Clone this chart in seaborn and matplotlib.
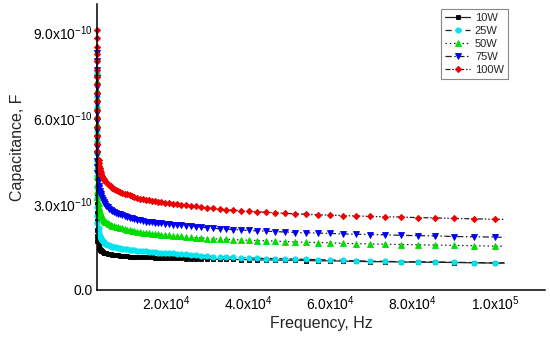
import matplotlib
matplotlib.use("Agg")
import matplotlib.pyplot as plt
import seaborn as sns
import pandas as pd

# Frequency (Hz)
freq = [3225, 3231, 3237, 3243, 3249, 3255, 3261, 3267, 3273, 3279, 3285, 3291, 3297, 3303, 3309, 3315,
        3620, 3720, 3820, 3915, 4015, 4115,
        4210, 4410, 4610, 4805, 5005, 5200, 5500, 5800, 6190, 6590,
        6985, 7380, 7875, 8370, 8870, 9360, 9960, 10550, 11145, 11740,
        12330, 13030, 13720, 14410, 15110, 15800, 16590, 17290, 18080, 18870,
        19760, 20650, 21640, 22630, 23720, 24810, 26000, 27290, 28580, 29960,
        31450, 33030, 34620, 36400, 38180, 40070, 42140, 44220, 46500, 48880,
        51450, 54030, 56900, 59770, 62940, 66210, 69680, 73340, 77200, 81270,
        85520, 90080, 94830, 99890, 102260]

# Capacitance in units of 1e-10 F
cap_10w = [6.0, 5.7, 5.4, 5.1, 4.8, 4.5, 4.2, 3.9, 3.6, 3.3, 3.0, 2.7, 2.4, 2.1, 1.9, 1.7,
           1.56, 1.50, 1.46, 1.43, 1.41, 1.39,
           1.37, 1.35, 1.33, 1.31, 1.30, 1.29, 1.28, 1.27, 1.26, 1.25,
           1.24, 1.23, 1.22, 1.21, 1.20, 1.19, 1.18, 1.18, 1.17, 1.17,
           1.16, 1.16, 1.15, 1.15, 1.14, 1.14, 1.14, 1.13, 1.13, 1.13,
           1.12, 1.12, 1.12, 1.11, 1.11, 1.10, 1.10, 1.09, 1.09, 1.08,
           1.08, 1.07, 1.07, 1.07, 1.06, 1.06, 1.05, 1.05, 1.05, 1.04,
           1.04, 1.03, 1.02, 1.02, 1.01, 1.00, 0.99, 0.99, 0.98, 0.97,
           0.97, 0.96, 0.95, 0.94, 0.94]
cap_25w = [8.0, 7.6, 7.2, 6.8, 6.4, 6.0, 5.6, 5.2, 4.8, 4.4, 4.0, 3.6, 3.2, 2.9, 2.6, 2.35,
           2.15, 2.02, 1.94, 1.89, 1.85, 1.81,
           1.78, 1.74, 1.70, 1.67, 1.64, 1.62, 1.60, 1.58, 1.56, 1.54,
           1.52, 1.51, 1.49, 1.48, 1.46, 1.45, 1.43, 1.42, 1.41, 1.40,
           1.39, 1.38, 1.37, 1.36, 1.35, 1.34, 1.33, 1.32, 1.31, 1.31,
           1.30, 1.29, 1.28, 1.27, 1.26, 1.25, 1.23, 1.22, 1.20, 1.19,
           1.17, 1.16, 1.15, 1.14, 1.13, 1.12, 1.11, 1.10, 1.10, 1.09,
           1.08, 1.07, 1.06, 1.05, 1.04, 1.02, 1.01, 1.00, 0.99, 0.99,
           0.98, 0.97, 0.96, 0.95, 0.95]
cap_50w = [7.6, 7.3, 7.0, 6.7, 6.4, 6.1, 5.8, 5.5, 5.2, 4.9, 4.6, 4.3, 4.0, 3.7, 3.45, 3.25,
           3.05, 2.90, 2.82, 2.75, 2.69, 2.64,
           2.60, 2.54, 2.49, 2.45, 2.42, 2.39, 2.36, 2.33, 2.30, 2.27,
           2.25, 2.23, 2.21, 2.19, 2.17, 2.15, 2.13, 2.11, 2.09, 2.07,
           2.06, 2.04, 2.03, 2.01, 2.00, 1.98, 1.97, 1.96, 1.95, 1.94,
           1.92, 1.91, 1.90, 1.89, 1.88, 1.86, 1.85, 1.83, 1.82, 1.80,
           1.79, 1.78, 1.77, 1.76, 1.75, 1.74, 1.73, 1.72, 1.71, 1.69,
           1.68, 1.67, 1.66, 1.65, 1.63, 1.62, 1.61, 1.60, 1.59, 1.58,
           1.57, 1.56, 1.55, 1.53, 1.53]
cap_75w = [8.3, 8.0, 7.7, 7.4, 7.1, 6.8, 6.5, 6.2, 5.9, 5.6, 5.3, 5.0, 4.75, 4.5, 4.3, 4.1,
           3.85, 3.65, 3.55, 3.47, 3.40, 3.35,
           3.30, 3.22, 3.15, 3.09, 3.04, 3.00, 2.95, 2.90, 2.84, 2.80,
           2.76, 2.73, 2.70, 2.67, 2.64, 2.61, 2.58, 2.55, 2.53, 2.51,
           2.47, 2.45, 2.43, 2.41, 2.39, 2.37, 2.36, 2.35, 2.34, 2.33,
           2.31, 2.30, 2.28, 2.27, 2.26, 2.24, 2.23, 2.21, 2.20, 2.18,
           2.16, 2.14, 2.13, 2.11, 2.10, 2.08, 2.07, 2.06, 2.04, 2.03,
           2.01, 2.00, 1.99, 1.98, 1.96, 1.95, 1.94, 1.93, 1.91, 1.90,
           1.89, 1.87, 1.86, 1.85, 1.84]
cap_100w = [9.1, 8.8, 8.5, 8.25, 8.0, 7.7, 7.45, 7.2, 6.9, 6.6, 6.3, 6.0, 5.7, 5.4, 5.1, 4.85,
            4.55, 4.45, 4.35, 4.27, 4.20, 4.12,
            4.06, 3.98, 3.92, 3.87, 3.83, 3.80, 3.76, 3.72, 3.67, 3.62,
            3.58, 3.54, 3.50, 3.46, 3.43, 3.40, 3.37, 3.34, 3.31, 3.28,
            3.25, 3.22, 3.19, 3.17, 3.15, 3.13, 3.11, 3.10, 3.08, 3.06,
            3.05, 3.03, 3.01, 3.00, 2.98, 2.96, 2.94, 2.92, 2.90, 2.88,
            2.85, 2.83, 2.81, 2.79, 2.77, 2.75, 2.73, 2.72, 2.70, 2.68,
            2.66, 2.65, 2.63, 2.62, 2.60, 2.59, 2.57, 2.56, 2.55, 2.53,
            2.52, 2.50, 2.49, 2.47, 2.47]

series_names = ["10W", "25W", "50W", "75W", "100W"]
series_vals = [cap_10w, cap_25w, cap_50w, cap_75w, cap_100w]

x_ticks = [2e4, 4e4, 6e4, 8e4, 1e5]
x_tick_labels = ["2.0x10$^{4}$", "4.0x10$^{4}$", "6.0x10$^{4}$", "8.0x10$^{4}$", "1.0x10$^{5}$"]
y_ticks = [0.0, 3e-10, 6e-10, 9e-10]
y_tick_labels = ["0.0", "3.0x10$^{-10}$", "6.0x10$^{-10}$", "9.0x10$^{-10}$"]

sns.set_theme(style="white")
plt.rcParams["font.family"] = ["Liberation Sans", "DejaVu Sans"]
plt.rcParams["mathtext.default"] = "regular"

marker_colors = ["#000000", "#00e5ee", "#00dd00", "#0000ee", "#ee0000"]
markers = ["s", "o", "^", "v", "D"]
msizes = [3.2, 3.8, 3.8, 3.8, 3.2]
dashes = ["-", (0, (5, 3)), (0, (1.2, 2.2)), (0, (5, 2, 1.2, 2)), (0, (4, 1.5, 1.2, 1.5, 1.2, 1.5))]

fig = plt.figure(figsize=(5.5, 3.41), dpi=100)
ax = fig.add_axes([0.1764, 0.1496, 0.8145, 0.8387])

for name, vals, mc, mk, ms, ls in zip(series_names, series_vals, marker_colors, markers, msizes, dashes):
    df = pd.DataFrame({"freq": freq, "cap": [v * 1e-10 for v in vals]})
    sns.lineplot(data=df, x="freq", y="cap", ax=ax, estimator=None, sort=False,
                 color="#222222", linewidth=0.9, linestyle=ls,
                 marker=mk, markersize=ms, markerfacecolor=mc, markeredgecolor=mc,
                 markeredgewidth=0.6, markevery=list(range(len(freq) - 1)),
                 label=name, clip_on=False)

ax.set_xlim(3222, 112160)
ax.set_ylim(0, 1.0e-9)
ax.set_xticks(x_ticks)
ax.set_xticklabels(x_tick_labels, fontsize=10)
ax.set_yticks(y_ticks)
ax.set_yticklabels(y_tick_labels, fontsize=10)
ax.tick_params(axis="both", length=0, pad=3, colors="black")
ax.set_xlabel("Frequency, Hz", fontsize=11.5, labelpad=2)
ax.set_ylabel("Capacitance, F", fontsize=11.5, labelpad=6)

for side in ["top", "right"]:
    ax.spines[side].set_visible(False)
for side in ["left", "bottom"]:
    ax.spines[side].set_color("black")
    ax.spines[side].set_linewidth(1.1)

leg = ax.legend(loc="upper right", bbox_to_anchor=(0.917, 0.9825), borderaxespad=0,
                fontsize=8, frameon=True, fancybox=False, edgecolor="#888888", framealpha=1,
                handlelength=2.3, handletextpad=0.4, labelspacing=0.28,
                borderpad=0.35, numpoints=1, markerscale=1.0)
leg.get_frame().set_linewidth(0.8)

fig.savefig("out.png", dpi=100)
